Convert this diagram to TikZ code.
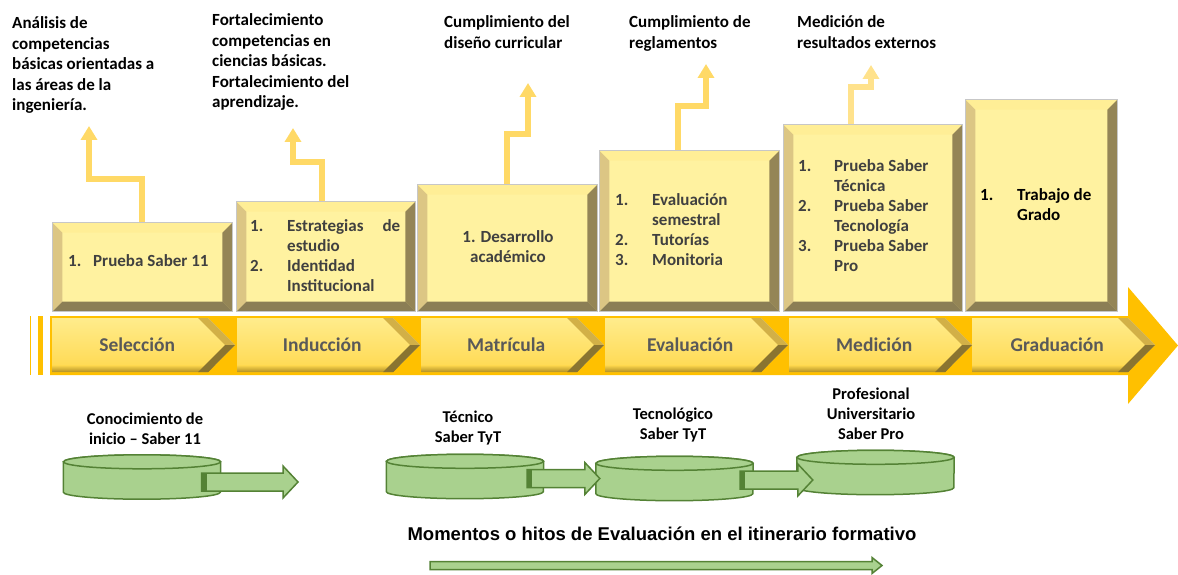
\documentclass[tikz,border=0pt]{standalone}
\usepackage{fontspec}
\setmainfont{Carlito}
\newfontfamily\capfont{Liberation Sans}
\usetikzlibrary{arrows.meta,shapes.symbols,calc}

\definecolor{bandcol}{HTML}{FFC000}
\definecolor{boxface}{HTML}{FFF2A0}
\definecolor{bevtop}{HTML}{FFEE96}
\definecolor{bevleft}{HTML}{DCC684}
\definecolor{bevright}{HTML}{948556}
\definecolor{bevbot}{HTML}{8B7E55}
\definecolor{chevtop}{HTML}{FFEC8C}
\definecolor{chevbot}{HTML}{FFD84E}
\definecolor{chevdark}{HTML}{B08F25}
\definecolor{chevup}{HTML}{D2B047}
\definecolor{chevdn}{HTML}{8A7430}
\definecolor{risercol}{HTML}{FFD966}
\definecolor{tankfill}{HTML}{A9D18E}
\definecolor{tankline}{HTML}{548235}
\definecolor{boxtext}{HTML}{404040}
\definecolor{chevtext}{HTML}{595959}

\newcommand{\leftstack}[1]{\begin{tabular}[t]{@{}l@{}}#1\end{tabular}}
\newcommand{\midstack}[1]{\begin{tabular}[t]{@{}c@{}}#1\end{tabular}}

\tikzset{
  bevbox/.style={draw=black!22, line width=0.6pt, fill=boxface, inner sep=0pt, anchor=south west,
    path picture={
      \path (path picture bounding box.north west) coordinate (pnw)
            (path picture bounding box.north east) coordinate (pne)
            (path picture bounding box.south west) coordinate (psw)
            (path picture bounding box.south east) coordinate (pse);
      \fill[bevtop] (pnw) -- (pne) -- ([shift={(-10pt,-10pt)}]pne) -- ([shift={(10pt,-10pt)}]pnw) -- cycle;
      \fill[bevleft] (pnw) -- ([shift={(10pt,-10pt)}]pnw) -- ([shift={(10pt,10pt)}]psw) -- (psw) -- cycle;
      \fill[bevright] (pne) -- (pse) -- ([shift={(-10pt,10pt)}]pse) -- ([shift={(-10pt,-10pt)}]pne) -- cycle;
      \fill[bevbot] (psw) -- (pse) -- ([shift={(-10pt,10pt)}]pse) -- ([shift={(10pt,10pt)}]psw) -- cycle;
    }},
  chev/.style={signal, signal to=east, signal pointer angle=90, minimum width=183pt, minimum height=54pt,
    inner sep=0pt, anchor=west, top color=chevtop, bottom color=chevbot, text=chevtext,
    font=\fontsize{19.5}{22}\selectfont\bfseries,
    path picture={
      \path (path picture bounding box.north east) coordinate (cne)
            (path picture bounding box.south east) coordinate (cse)
            (path picture bounding box.south west) coordinate (csw)
            (path picture bounding box.east) coordinate (ctip);
      \fill[top color=chevbot, bottom color=chevdark] ([yshift=7pt]csw) rectangle (cse);
      \fill[chevup] ([xshift=-27pt]cne) -- (ctip) -- ([xshift=-10pt]ctip) -- ([xshift=-37pt]cne) -- cycle;
      \fill[chevdn] ([xshift=-27pt]cse) -- (ctip) -- ([xshift=-10pt]ctip) -- ([xshift=-37pt]cse) -- cycle;
    }},
  toplab/.style={anchor=base west, inner sep=0pt, font=\fontsize{17}{20.4}\selectfont\bfseries},
  boxlab/.style={inner sep=0pt, text=boxtext, font=\fontsize{17}{20}\selectfont\bfseries},
  lowlab/.style={anchor=base, inner sep=0pt, font=\fontsize{16.5}{20}\selectfont\bfseries},
  riser/.style={draw=risercol, line width=6pt, line join=miter, -{Triangle[width=16pt,length=14pt]}},
  tankbox/.style={minimum width=157pt, minimum height=44pt, inner sep=0pt},
  tank/.style={fill=tankfill, draw=tankline, line width=1.5pt},
  fatlink/.style n args={3}{to path={let \p1=(\tikztostart), \p2=(\tikztotarget) in
    (\x1,\y1-#1) -- (\x2-#3,\y1-#1) -- (\x2-#3,\y1-#2) -- (\x2,\y1) -- (\x2-#3,\y1+#2) -- (\x2-#3,\y1+#1) -- (\x1,\y1+#1) -- cycle}},
}

\begin{document}
\begin{tikzpicture}[x=1pt,y=-1pt]
\useasboundingbox (0,0) rectangle (1178,575);

% timeline band
\fill[bandcol] (50,316) -- (1128,316) -- (1128,287) -- (1178,345.5) -- (1128,404) -- (1128,375) -- (50,375) -- cycle;
\fill[bandcol] (29.5,316) rectangle (31,375);
\fill[bandcol] (37.5,316) rectangle (42.5,375);

% stages
\foreach \x/\nm/\lbl in {52/sel/Selección,237/ind/Inducción,421/mat/Matrícula,605/eva/Evaluación,789/med/Medición,972/gra/Graduación}
  \node[chev] (\nm) at (\x,345) {\hspace*{14pt}\lbl};

% step boxes
\node[bevbox, minimum width=180pt, minimum height=89pt] (b1) at (52,312) {};
\node[bevbox, minimum width=179pt, minimum height=110pt] (b2) at (236,312) {};
\node[bevbox, minimum width=180pt, minimum height=127pt] (b3) at (417,312) {};
\node[bevbox, minimum width=180pt, minimum height=161pt] (b4) at (599,312) {};
\node[bevbox, minimum width=179pt, minimum height=187pt] (b5) at (783,312) {};
\node[bevbox, minimum width=152pt, minimum height=212pt] (b6) at (965,312) {};

\node[boxlab, anchor=west] (b1t) at (68,262) {\begin{tabular}{@{}l@{}}\makebox[25pt][l]{1.}Prueba Saber 11\end{tabular}};
\node[boxlab, anchor=west] (b2t) at (250,257.5) {\begin{tabular}{@{}l@{}l@{}}\makebox[37pt][l]{1.} & \makebox[113pt][s]{Estrategias de}\\ & estudio\\ \makebox[37pt][l]{2.} & Identidad\\ & Institucional\end{tabular}};
\node[boxlab] (b3t) at (508,248) {\begin{tabular}{@{}c@{}}1. Desarrollo\\académico\end{tabular}};
\node[boxlab, anchor=west] (b4t) at (615,231) {\begin{tabular}{@{}l@{}l@{}}\makebox[37pt][l]{1.} & Evaluación\\ & semestral\\ 2. & Tutorías\\ 3. & Monitoria\end{tabular}};
\node[boxlab, anchor=west] (b5t) at (798,217.5) {\begin{tabular}{@{}l@{}l@{}}\makebox[36pt][l]{1.} & Prueba Saber\\ & Técnica\\ 2. & Prueba Saber\\ & Tecnología\\ 3. & Prueba Saber\\ & Pro\end{tabular}};
\node[boxlab, anchor=west, text=black] (b6t) at (980,206) {\begin{tabular}{@{}l@{}l@{}}\makebox[37pt][l]{1.} & Trabajo de\\ & Grado\end{tabular}};

% goals on top
\node[toplab] (t1) at (12,29) {\leftstack{Análisis de\\competencias\\básicas orientadas a\\las áreas de la\\ingeniería.}};
\node[toplab] (t2) at (212,26) {\leftstack{Fortalecimiento\\competencias en\\ciencias básicas.\\Fortalecimiento del\\aprendizaje.}};
\node[toplab] (t3) at (444,28) {\leftstack{Cumplimiento del\\diseño curricular}};
\node[toplab] (t4) at (629,28) {\leftstack{Cumplimiento de\\reglamentos}};
\node[toplab] (t5) at (797,28) {\leftstack{Medición de\\resultados externos}};

\coordinate (r1) at (89,126);
\coordinate (r2) at (293,128);
\coordinate (r3) at (528,83);
\coordinate (r4) at (706,64);
\coordinate (r5) at (871,65);
\draw[riser] (b1.north) -- ++(0,-43) -| (r1);
\draw[riser] ([xshift=-3.5pt]b2.north) -- ++(0,-39) -| (r2);
\draw[riser] (b3.north) -- ++(0,-50) -| (r3);
\draw[riser] ([xshift=-11pt]b4.north) -- ++(0,-44) -| (r4);
\draw[riser, draw=risercol!75] ([xshift=-21.5pt]b5.north) -- ++(0,-37) -| (r5);

% evaluation milestones
\node[tankbox] (k1) at (142,477) {};
\node[tankbox] (k2) at (465,476.5) {};
\node[tankbox] (k3) at (674.5,478.5) {};
\node[tankbox] (k4) at (875.5,472.5) {};
\foreach \k in {k1,k2,k3,k4}{
  \filldraw[tank] ([yshift=-7pt]\k.north west) -- ([yshift=7pt]\k.south west)
    arc[start angle=180, end angle=360, x radius=78.5pt, y radius=7pt]
    -- ([yshift=-7pt]\k.north east)
    arc[start angle=0, end angle=180, x radius=78.5pt, y radius=7pt] -- cycle;
  \draw[tank] ([yshift=-7pt]\k.north) ellipse[x radius=78.5pt, y radius=7pt];
}

\node[lowlab] (l1) at (145,424) {\midstack{Conocimiento de\\inicio -- Saber 11}};
\node[lowlab] (l2) at (468,422) {\midstack{Técnico\\Saber TyT}};
\node[lowlab] (l3) at (673,419) {\midstack{Tecnológico\\Saber TyT}};
\node[lowlab] (l4) at (871,399) {\midstack{Profesional\\Universitario\\Saber Pro}};

\coordinate (a1) at (298,482);
\filldraw[tank] ([xshift=-19pt,yshift=-5pt]k1.east) to[fatlink={9pt}{16pt}{15pt}] (a1);
\fill[tankline] ([xshift=-19pt,yshift=-5pt]k1.east) ++(0,-9) rectangle ++(5,18);
\filldraw[tank] ([xshift=-16.5pt,yshift=-2pt]k2.east) to[fatlink={9pt}{16pt}{15pt}] ([xshift=4pt]k3.west);
\fill[tankline] ([xshift=-16.5pt,yshift=-2pt]k2.east) ++(0,-9) rectangle ++(5,18);
\filldraw[tank] ([xshift=-13pt,yshift=-1.5pt]k3.east) to[fatlink={9pt}{16pt}{15pt}] ([xshift=16pt]k4.west);
\fill[tankline] ([xshift=-13pt,yshift=-1.5pt]k3.east) ++(0,-9) rectangle ++(5,18);

\node[font=\capfont\bfseries\fontsize{18.5}{22}\selectfont, inner sep=0pt] (cap) at (662,534) {Momentos o hitos de Evaluación en el itinerario formativo};
\coordinate (h1) at (430,565.5);
\coordinate (h2) at (882,565.5);
\filldraw[tank] (h1) to[fatlink={4pt}{8pt}{10pt}] (h2);
\end{tikzpicture}
\end{document}
